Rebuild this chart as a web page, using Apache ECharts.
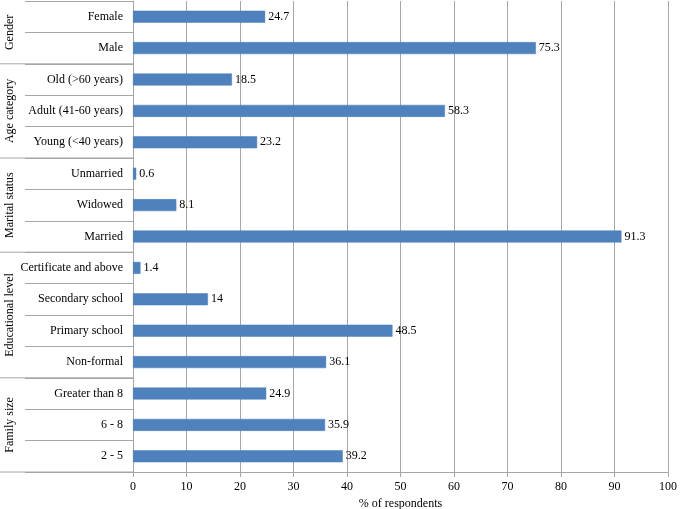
<!DOCTYPE html>
<html>
<head>
<meta charset="utf-8">
<script src="https://cdn.jsdelivr.net/npm/echarts@6/dist/echarts.min.js"></script>
<style>
  html, body { margin: 0; padding: 0; background: #fff; }
  #chart { width: 685px; height: 509px; }
</style>
</head>
<body>
<div id="chart"></div>
<script>
// categories top to bottom
const categories = [
  "Female", "Male",
  "Old (>60 years)", "Adult (41-60 years)", "Young (<40 years)",
  "Unmarried", "Widowed", "Married",
  "Certificate and above", "Secondary school", "Primary school", "Non-formal",
  "Greater than 8", "6 - 8", "2 - 5",
];
const values = [24.7, 75.3, 18.5, 58.3, 23.2, 0.6, 8.1, 91.3, 1.4, 14, 48.5, 36.1, 24.9, 35.9, 39.2];
// group name, first index, last index
const groups = [
  ["Gender", 0, 1],
  ["Age category", 2, 4],
  ["Marital status", 5, 7],
  ["Educational level", 8, 11],
  ["Family size", 12, 14],
];

const FONT = "Liberation Serif";
const GRID_COLOR = "#a6a6a6";

const chart = echarts.init(document.getElementById("chart"));

chart.setOption({
  animation: false,
  textStyle: { fontFamily: FONT },
  grid: {
    left: 133, right: 17, top: 1, bottom: 37,
    containLabel: false,
    outerBoundsMode: "none",
  },
  xAxis: {
    type: "value",
    min: 0,
    max: 100,
    interval: 10,
    name: "% of respondents",
    nameLocation: "middle",
    nameGap: 26,
    nameTextStyle: { fontFamily: FONT, fontSize: 12, color: "#000" },
    axisLine: { show: true, lineStyle: { color: GRID_COLOR } },
    axisTick: { show: true, length: 5, lineStyle: { color: GRID_COLOR } },
    axisLabel: { fontFamily: FONT, fontSize: 12, color: "#000", margin: 9 },
    splitLine: { show: true, lineStyle: { color: GRID_COLOR } },
  },
  yAxis: {
    type: "category",
    inverse: true,
    data: categories,
    axisLine: { show: true, lineStyle: { color: GRID_COLOR } },
    axisTick: { show: true, interval: 0, length: 108, lineStyle: { color: GRID_COLOR } },
    axisLabel: { fontFamily: FONT, fontSize: 12, color: "#000", margin: 10, interval: 0 },
    splitLine: { show: false },
  },
  series: [{
    type: "bar",
    data: values,
    barWidth: 12,
    itemStyle: { color: "#4f81bd", borderColor: "#4a7ebb", borderWidth: 0.5 },
    label: {
      show: true,
      position: "right",
      distance: 3,
      fontFamily: FONT,
      fontSize: 12,
      color: "#000",
    },
  }],
});

// group labels and separators at the category boundaries
const c0 = chart.convertToPixel({ yAxisIndex: 0 }, 0);
const c1 = chart.convertToPixel({ yAxisIndex: 0 }, 1);
const band = c1 - c0;
const edge = (i) => c0 + (i - 0.5) * band;
const graphics = [];
groups.forEach(([name, a, b]) => {
  const top = edge(a);
  const bottom = edge(b + 1);
  graphics.push({
    type: "text",
    x: 10,
    y: (top + bottom) / 2,
    rotation: Math.PI / 2,
    style: {
      text: name,
      fontFamily: FONT,
      fontSize: 12,
      fill: "#000",
      align: "center",
      verticalAlign: "middle",
    },
  });
  graphics.push({
    type: "line",
    shape: { x1: 0, y1: bottom, x2: 133, y2: bottom },
    style: { stroke: GRID_COLOR, lineWidth: 1 },
  });
});
chart.setOption({ graphic: graphics });
</script>
</body>
</html>
